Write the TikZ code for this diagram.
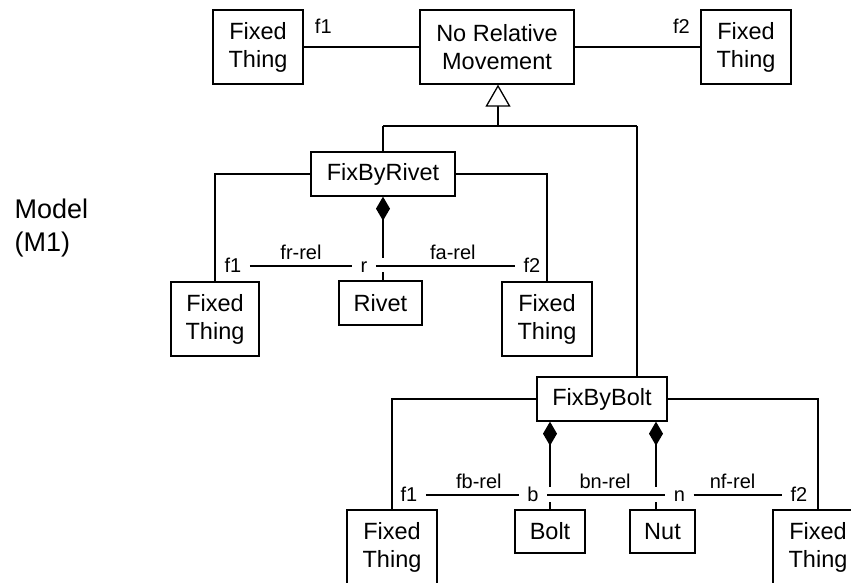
\documentclass[tikz,border=0pt]{standalone}
\usepackage{fontspec}
\setmainfont{Liberation Sans}
\usetikzlibrary{arrows.meta}
\begin{document}
\begin{tikzpicture}[x=1pt,y=-1pt, line width=1.3pt,
  box/.style={draw, line width=1.3pt, inner sep=0pt, align=center,
    font=\fontsize{23.5}{28}\selectfont},
  ftbox/.style={box, minimum width=90pt, minimum height=74pt},
  role/.style={inner xsep=8pt, inner ysep=0pt, text height=12pt, text depth=0pt,
    anchor=base, font=\fontsize{20}{22}\selectfont},
  rel/.style={above=2pt, font=\fontsize{20}{22}\selectfont},
  toplab/.style={above=10pt, font=\fontsize{20}{22}\selectfont},
  inherit/.style={-{Triangle[open, length=22pt, width=25pt, fill=white]}},
  compose/.style={{Diamond[length=24pt, width=14pt]}-}]
\clip (0,0) rectangle (851,582);
\fill[white] (0,0) rectangle (851,582);

% left caption
\node[anchor=north west, inner sep=0pt, align=left,
  font=\fontsize{27}{33}\selectfont] (model) at (14,198) {Model\\(M1)};

% top row
\node[ftbox] (ftA) at (258,47) {Fixed\\Thing};
\node[box, minimum width=154pt, minimum height=74pt] (nrm) at (497,47) {No Relative\\Movement};
\node[ftbox] (ftB) at (746,47) {Fixed\\Thing};
\draw (ftA) -- node[pos=0.17, toplab] {f1} (nrm);
\draw (nrm) -- node[pos=0.85, toplab] {f2} (ftB);

% generalisation
\coordinate (jM) at (498,126);
\coordinate (jL) at (383,126);
\coordinate (jR) at (637,126);
\draw[inherit] (jM) -- (jM |- nrm.south);
\draw (jL) -- (jR);

% FixByRivet
\node[box, minimum width=144pt, minimum height=44pt] (fbr) at (383,174) {FixByRivet};
\draw (jL) -- (fbr.north);
\node[box, minimum width=88pt, minimum height=74pt] (ftC) at (215,319) {Fixed\\Thing};
\node[box, minimum width=83pt, minimum height=44pt] (rivet) at (380.5,303) {Rivet};
\node[ftbox] (ftD) at (547,319) {Fixed\\Thing};
\draw (fbr.west) -| (ftC.north);
\draw (fbr.east) -| (ftD.north);
\coordinate (rtop) at (383,258);
\coordinate (rbot) at (383,272);
\draw[compose] (fbr.south) -- (rtop);
\draw (rbot) -- (rbot |- rivet.north);
\node[role] (rf1) at (233,272) {f1};
\node[role] (rr) at (364,272) {r};
\node[role] (rf2) at (532,272) {f2};
\draw (rf1) -- node[rel] {fr-rel} (rr);
\draw (rr) -- node[rel, pos=0.553] {fa-rel} (rf2);

% FixByBolt
\node[box, minimum width=130pt, minimum height=44pt] (fbb) at (602,399) {FixByBolt};
\draw (jR) -- (jR |- fbb.north);
\node[ftbox] (ftE) at (392,547) {Fixed\\Thing};
\node[box, minimum width=70pt, minimum height=43pt] (bolt) at (550,531.5) {Bolt};
\node[box, minimum width=65pt, minimum height=43pt] (nut) at (662.5,531.5) {Nut};
\node[ftbox] (ftF) at (818,547) {Fixed\\Thing};
\draw (fbb.west) -| (ftE.north);
\draw (fbb.east) -| (ftF.north);
\coordinate (btop) at (550,487);
\coordinate (bbot) at (550,502);
\coordinate (ntop) at (656,487);
\coordinate (nbot) at (656,502);
\draw[compose] (btop |- fbb.south) -- (btop);
\draw (bbot) -- (bbot |- bolt.north);
\draw[compose] (ntop |- fbb.south) -- (ntop);
\draw (nbot) -- (nbot |- nut.north);
\node[role] (bf1) at (409,501) {f1};
\node[role] (bb) at (533,501) {b};
\node[role] (bn) at (679.5,501) {n};
\node[role] (bf2) at (799,501) {f2};
\draw (bf1) -- node[rel, pos=0.57] {fb-rel} (bb);
\draw (bb) -- node[rel, pos=0.49] {bn-rel} (bn);
\draw (bn) -- node[rel, pos=0.44] {nf-rel} (bf2);
\end{tikzpicture}
\end{document}
